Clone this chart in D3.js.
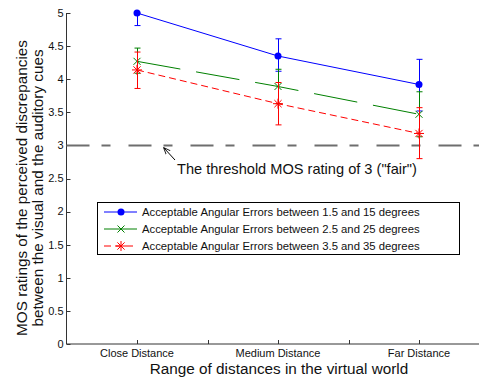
<!DOCTYPE html>
<html>
<head>
<meta charset="utf-8">
<script src="https://cdn.jsdelivr.net/npm/d3@7"></script>
<style>
  body { margin: 0; background: #fff; }
  text { font-family: Arial, "Liberation Sans", sans-serif; fill: #111; }
</style>
</head>
<body>
<div id="chart"></div>
<script>
// MOS ratings by distance range, three angular-error conditions
const categories = ['Close Distance', 'Medium Distance', 'Far Distance'];
const catPos = [1, 2, 3];
const xTicks = [1, 1.5, 2, 2.5, 3];
const yTicks = d3.range(0, 5.01, 0.5);

const seriesNames = [
  'Acceptable Angular Errors between 1.5 and 15 degrees',
  'Acceptable Angular Errors between 2.5 and 25 degrees',
  'Acceptable Angular Errors between 3.5 and 35 degrees'
];
const blueMean = [5.0, 4.35, 3.92];
const blueLow  = [4.81, 4.12, 3.52];
const blueHigh = [5.0, 4.61, 4.30];
const greenMean = [4.27, 3.89, 3.47];
const greenLow  = [4.09, 3.63, 3.13];
const greenHigh = [4.47, 4.15, 3.81];
const redMean = [4.14, 3.63, 3.18];
const redLow  = [3.86, 3.31, 2.80];
const redHigh = [4.41, 3.95, 3.57];
const threshold = 3;

const W = 479, H = 380;
const svg = d3.select('#chart').append('svg')
  .attr('width', W).attr('height', H);

const x = d3.scaleLinear().domain([0.5, 3.5]).range([66.5, 489.5]);
const y = d3.scaleLinear().domain([0, 5]).range([344, 13]);

// Axes (left + bottom, ticks pointing inward)
const axisColor = '#333';
svg.append('line')
  .attr('x1', x(0.5)).attr('x2', x(0.5))
  .attr('y1', y(0)).attr('y2', y(5))
  .attr('stroke', axisColor);
svg.append('line')
  .attr('x1', x(0.5)).attr('x2', W)
  .attr('y1', y(0)).attr('y2', y(0))
  .attr('stroke', axisColor);

const yt = svg.append('g');
yt.selectAll('line').data(yTicks).join('line')
  .attr('x1', x(0.5)).attr('x2', x(0.5) + 4)
  .attr('y1', d => Math.round(y(d)) + 0.5).attr('y2', d => Math.round(y(d)) + 0.5)
  .attr('stroke', axisColor);
yt.selectAll('text').data(yTicks).join('text')
  .attr('x', x(0.5) - 3).attr('y', d => y(d))
  .attr('dy', '0.35em').attr('text-anchor', 'end')
  .style('font-size', '11px')
  .text(d => d3.format('~g')(d));

const xt = svg.append('g');
xt.selectAll('line').data(xTicks).join('line')
  .attr('x1', d => Math.round(x(d)) + 0.5).attr('x2', d => Math.round(x(d)) + 0.5)
  .attr('y1', y(0)).attr('y2', y(0) - 4)
  .attr('stroke', axisColor);
xt.selectAll('text').data(categories).join('text')
  .attr('x', (d, i) => x(catPos[i])).attr('y', y(0) + 13)
  .attr('text-anchor', 'middle')
  .style('font-size', '11px')
  .text(d => d);

// Axis titles
svg.append('text')
  .attr('x', 279).attr('y', 374)
  .attr('text-anchor', 'middle')
  .style('font-size', '15.3px')
  .text('Range of distances in the virtual world');

const ylab = svg.append('text')
  .attr('transform', 'translate(27,188) rotate(-90)')
  .attr('text-anchor', 'middle')
  .style('font-size', '15.3px');
ylab.append('tspan').attr('x', 0).attr('y', 0).text('MOS ratings of the perceived discrepancies');
ylab.append('tspan').attr('x', 0).attr('y', 16).text('between the visual and the auditory cues');

// Threshold line
svg.append('line')
  .attr('x1', x(0.5)).attr('x2', W)
  .attr('y1', y(threshold)).attr('y2', y(threshold))
  .attr('stroke', '#6e6e6e').attr('stroke-width', 2)
  .attr('stroke-dasharray', '23,12,9,18');

// Series
const series = [
  { name: seriesNames[0], mean: blueMean, low: blueLow, high: blueHigh, color: '#0000ff', dash: null, marker: 'dot' },
  { name: seriesNames[1], mean: greenMean, low: greenLow, high: greenHigh, color: '#008000', dash: '44,16', marker: 'x' },
  { name: seriesNames[2], mean: redMean, low: redLow, high: redHigh, color: '#ff0000', dash: '7,4', marker: 'star' }
];

function drawMarker(g, type, cx, cy, color) {
  if (type === 'dot') {
    g.append('circle').attr('cx', cx).attr('cy', cy).attr('r', 3.5).attr('fill', color);
  } else if (type === 'x') {
    const s = 3.5;
    g.append('path')
      .attr('d', `M${cx - s},${cy - s}L${cx + s},${cy + s}M${cx - s},${cy + s}L${cx + s},${cy - s}`)
      .attr('stroke', color).attr('stroke-width', 1);
  } else {
    const s = 5, d = 3.6;
    g.append('path')
      .attr('d', `M${cx - s},${cy}L${cx + s},${cy}M${cx},${cy - s}L${cx},${cy + s}` +
                 `M${cx - d},${cy - d}L${cx + d},${cy + d}M${cx - d},${cy + d}L${cx + d},${cy - d}`)
      .attr('stroke', color).attr('stroke-width', 1);
  }
}

const line = d3.line().x((d, i) => x(catPos[i])).y(d => y(d));

series.forEach(s => {
  const g = svg.append('g');
  // error bars
  catPos.forEach((c, i) => {
    const cx = Math.round(x(c)) + 0.5;
    g.append('line').attr('x1', cx).attr('x2', cx)
      .attr('y1', y(s.low[i])).attr('y2', y(s.high[i]))
      .attr('stroke', s.color);
    [s.low[i], s.high[i]].forEach(v => {
      g.append('line').attr('x1', cx - 3).attr('x2', cx + 3)
        .attr('y1', y(v)).attr('y2', y(v))
        .attr('stroke', s.color);
    });
  });
  g.append('path').datum(s.mean)
    .attr('d', line)
    .attr('fill', 'none')
    .attr('stroke', s.color)
    .attr('stroke-dasharray', s.dash);
  s.mean.forEach((v, i) => drawMarker(g, s.marker, x(catPos[i]), y(v), s.color));
});

// Threshold annotation
svg.append('defs').append('marker')
  .attr('id', 'arrow').attr('viewBox', '0 0 10 10')
  .attr('refX', 9).attr('refY', 5)
  .attr('markerWidth', 7).attr('markerHeight', 7)
  .attr('orient', 'auto')
  .append('path').attr('d', 'M0,1L10,5L0,9').attr('fill', 'none').attr('stroke', '#000').attr('stroke-width', 1.2);
svg.append('line')
  .attr('x1', 175).attr('y1', 160).attr('x2', 164).attr('y2', 148)
  .attr('stroke', '#000').attr('marker-end', 'url(#arrow)');
svg.append('text')
  .attr('x', 177).attr('y', 174)
  .style('font-size', '14.6px')
  .text('The threshold MOS rating of 3 ("fair")');

// Legend
const lg = svg.append('g');
lg.append('rect')
  .attr('x', 97.5).attr('y', 202.5).attr('width', 362).attr('height', 52)
  .attr('fill', '#fff').attr('stroke', '#000');
const rowY = [212, 229, 246];
series.forEach((s, i) => {
  lg.append('line')
    .attr('x1', 104).attr('x2', 137)
    .attr('y1', rowY[i]).attr('y2', rowY[i])
    .attr('stroke', s.color)
    .attr('stroke-dasharray', s.marker === 'star' ? '7,4' : null);
  drawMarker(lg, s.marker, 121, rowY[i], s.color);
  lg.append('text')
    .attr('x', 142).attr('y', rowY[i]).attr('dy', '0.35em')
    .style('font-size', '11.3px')
    .text(s.name);
});
</script>
</body>
</html>
